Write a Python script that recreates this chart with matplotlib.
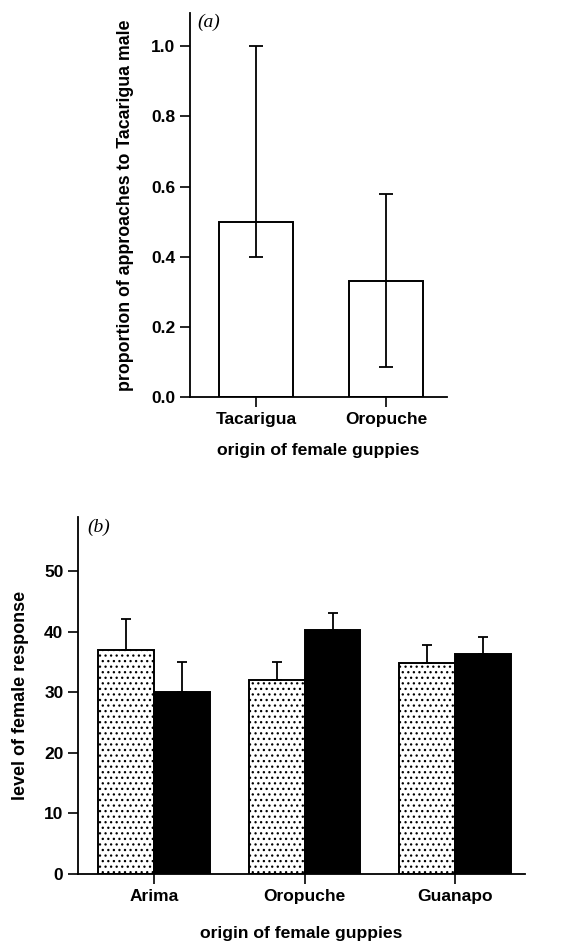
import matplotlib
matplotlib.use("Agg")
import matplotlib.pyplot as plt
import numpy as np

plt.rcParams['font.family'] = ['Liberation Sans', 'DejaVu Sans']
plt.rcParams['font.weight'] = 'bold'
plt.rcParams['axes.labelweight'] = 'bold'
plt.rcParams['hatch.linewidth'] = 0.9

# panel (a)
a_sites = ["Tacarigua", "Oropuche"]
a_prop = [0.50, 0.33]
a_low = [0.40, 0.085]
a_high = [1.00, 0.58]

# panel (b)
b_sites = ["Arima", "Oropuche", "Guanapo"]
b_light = [37.0, 32.1, 34.8]
b_light_err = [5.1, 2.9, 3.0]
b_dark = [30.0, 40.3, 36.4]
b_dark_err = [5.0, 2.9, 2.8]

fig = plt.figure(figsize=(5.62, 9.42), dpi=100)

def style(ax):
    ax.spines['top'].set_visible(False)
    ax.spines['right'].set_visible(False)
    ax.spines['left'].set_linewidth(1.3)
    ax.spines['bottom'].set_linewidth(1.3)
    ax.tick_params(direction='out', length=7, width=1.2, labelsize=12.5)

# ---- (a)
ax1 = fig.add_axes([190/562, 1-397/942, (447-190)/562, (397-13)/942])
x = np.arange(len(a_sites))
ax1.bar(x, a_prop, width=0.57, color='white', edgecolor='black', linewidth=1.4, zorder=2)
yerr = [np.array(a_prop) - np.array(a_low), np.array(a_high) - np.array(a_prop)]
ax1.errorbar(x, a_prop, yerr=yerr, fmt='none', ecolor='black', elinewidth=1.3,
             capsize=5, capthick=1.3, zorder=3)
ax1.set_xlim(-0.508, 1.47)
ax1.set_ylim(0, 1.095)
ax1.set_yticks([0.0, 0.2, 0.4, 0.6, 0.8, 1.0])
ax1.set_yticklabels(["0.0", "0.2", "0.4", "0.6", "0.8", "1.0"])
ax1.set_xticks(x)
ax1.set_xticklabels(a_sites, fontsize=14)
style(ax1)
ax1.set_xlabel("origin of female guppies", fontsize=12.6, labelpad=12)
ax1.set_ylabel("proportion of approaches to Tacarigua male", fontsize=12.8, labelpad=12)
ax1.text(0.03, 0.998, "(a)", transform=ax1.transAxes, family='Liberation Serif',
         style='italic', weight='normal', fontsize=14, va='top', ha='left')

# ---- (b)
ax2 = fig.add_axes([78/562, 1-874/942, (525-78)/562, (874-517)/942])
xb = np.arange(len(b_sites))
w = 0.372
ax2.bar(xb - w/2, b_light, width=w, color='white', edgecolor='black', hatch='...',
        linewidth=1.4, zorder=2)
ax2.bar(xb + w/2, b_dark, width=w, color='black', edgecolor='black', linewidth=1.4, zorder=2)
ax2.errorbar(xb - w/2, b_light, yerr=[np.zeros(3), b_light_err], fmt='none', ecolor='black',
             elinewidth=1.3, capsize=3.5, capthick=1.3, zorder=3)
ax2.errorbar(xb + w/2, b_dark, yerr=[np.zeros(3), b_dark_err], fmt='none', ecolor='black',
             elinewidth=1.3, capsize=3.5, capthick=1.3, zorder=3)
ax2.set_xlim(-0.505, 2.465)
ax2.set_ylim(0, 59)
ax2.set_yticks([0, 10, 20, 30, 40, 50])
ax2.set_xticks(xb)
ax2.set_xticklabels(b_sites, fontsize=14)
style(ax2)
ax2.set_xlabel("origin of female guppies", fontsize=12.6, labelpad=16)
ax2.set_ylabel("level of female response", fontsize=13, labelpad=11)
ax2.text(0.02, 0.995, "(b)", transform=ax2.transAxes, family='Liberation Serif',
         style='italic', weight='normal', fontsize=14, va='top', ha='left')

fig.savefig("out.png", dpi=100)
